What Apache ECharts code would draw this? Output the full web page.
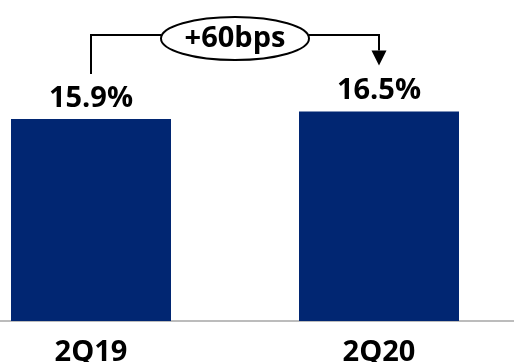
<!DOCTYPE html>
<html>
<head>
<meta charset="utf-8">
<script src="https://cdn.jsdelivr.net/npm/echarts@6/dist/echarts.min.js"></script>
<style>
  html, body { margin: 0; padding: 0; background: #fff; }
  #chart { width: 514px; height: 362px; }
</style>
</head>
<body>
<div id="chart"></div>
<script>
// Quarter labels and margin values (%)
const categories = ['2Q19', '2Q20'];
const values = [15.9, 16.5];
const changeLabel = '+60bps';

const FONT = '"Open Sans", "DejaVu Sans", sans-serif';
const chart = echarts.init(document.getElementById('chart'));

chart.setOption({
  animation: false,
  grid: { left: -53, width: 576, top: 67, bottom: 41, containLabel: false, outerBoundsMode: 'none' },
  xAxis: {
    type: 'category',
    data: categories,
    axisLine: { show: true, lineStyle: { color: '#a6a6a6', width: 1.5 } },
    axisTick: { show: false },
    axisLabel: {
      color: '#000', fontFamily: FONT, fontWeight: 'bold', fontSize: 29, margin: 17
    }
  },
  yAxis: { type: 'value', min: 0, max: 20, show: false, splitLine: { show: false } },
  series: [{
    type: 'bar',
    data: values,
    barWidth: 160,
    itemStyle: { color: '#012672' },
    label: {
      show: true,
      position: 'top',
      distance: 6,
      color: '#000',
      fontFamily: FONT,
      fontWeight: 'bold',
      fontSize: 29,
      formatter: p => p.value.toFixed(1) + '%'
    }
  }]
});

// Bracket annotation linking the two bars, placed from the axes' scales
function drawBracket() {
  const x0 = chart.convertToPixel({ xAxisIndex: 0 }, categories[0]);
  const x1 = chart.convertToPixel({ xAxisIndex: 0 }, categories[1]);
  const top0 = chart.convertToPixel({ yAxisIndex: 0 }, values[0]);
  const top1 = chart.convertToPixel({ yAxisIndex: 0 }, values[1]);
  const yLine = 35;
  const cx = (x0 + x1) / 2;
  const rx = 74, ry = 21.5;
  const tipY = top1 - 46;
  const head = 15;
  const stroke = { stroke: '#000', lineWidth: 2, fill: null };

  chart.setOption({
    graphic: [
      { type: 'polyline', shape: { points: [[x0, top0 - 45], [x0, yLine], [cx - rx, yLine]] }, style: stroke },
      { type: 'polyline', shape: { points: [[cx + rx, yLine], [x1, yLine], [x1, tipY - head]] }, style: stroke },
      { type: 'polygon', shape: { points: [[x1 - 7.5, tipY - head], [x1 + 7.5, tipY - head], [x1, tipY]] }, style: { fill: '#000' } },
      { type: 'ellipse', shape: { cx: cx, cy: 38.5, rx: rx, ry: ry }, style: { stroke: '#000', lineWidth: 2, fill: '#fff' } },
      {
        type: 'text', x: cx, y: 38.5,
        style: {
          text: changeLabel, fill: '#000', font: 'bold 29px ' + FONT,
          align: 'center', verticalAlign: 'middle'
        }
      }
    ]
  });
}
drawBracket();
</script>
</body>
</html>
